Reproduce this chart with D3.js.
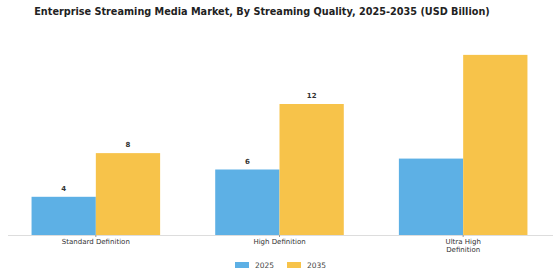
<!DOCTYPE html>
<html>
<head>
<meta charset="utf-8">
<script src="https://cdn.jsdelivr.net/npm/d3@7"></script>
<style>
  body { margin: 0; background: #fff; }
  text { font-family: "DejaVu Sans", sans-serif; }
</style>
</head>
<body>
<div id="chart"></div>
<script>
// chart data
var categories = ["Standard Definition", "High Definition", "Ultra High Definition"];
var years = ["2025", "2035"];
var values2025 = [3.5, 6.0, 7.0];
var values2035 = [7.5, 12.0, 16.5];
var labels2025 = ["4", "6", ""];
var labels2035 = ["8", "12", ""];
var colors = ["#5DB0E5", "#F7C34A"];

var width = 560, height = 280;
var baseY = 235;

var svg = d3.select("#chart").append("svg")
    .attr("width", width)
    .attr("height", height);

// title
svg.append("text")
    .attr("x", 262)
    .attr("y", 15)
    .attr("text-anchor", "middle")
    .attr("font-size", "9.7px")
    .attr("font-weight", "bold")
    .attr("fill", "#222")
    .text("Enterprise Streaming Media Market, By Streaming Quality, 2025-2035 (USD Billion)");

// scales
var x = d3.scaleBand()
    .domain(categories)
    .range([4, 555])
    .paddingInner(0.3)
    .paddingOuter(0.15);

var x1 = d3.scaleBand()
    .domain(years)
    .range([0, x.bandwidth()]);

var y = d3.scaleLinear()
    .domain([0, 12])
    .range([baseY, 104]);

var rows = categories.map(function(c, i) {
    return {
        cat: c,
        bars: [
            { year: "2025", value: values2025[i], label: labels2025[i] },
            { year: "2035", value: values2035[i], label: labels2035[i] }
        ]
    };
});

var groups = svg.selectAll(".group")
    .data(rows)
    .enter().append("g")
    .attr("class", "group")
    .attr("transform", function(d) { return "translate(" + x(d.cat) + ",0)"; });

groups.selectAll("rect")
    .data(function(d) { return d.bars; })
    .enter().append("rect")
    .attr("x", function(d) { return x1(d.year); })
    .attr("y", function(d) { return y(d.value); })
    .attr("width", x1.bandwidth())
    .attr("height", function(d) { return baseY - y(d.value); })
    .attr("fill", function(d, i) { return colors[i]; });

groups.selectAll(".val")
    .data(function(d) { return d.bars; })
    .enter().append("text")
    .attr("class", "val")
    .attr("x", function(d) { return x1(d.year) + x1.bandwidth() / 2; })
    .attr("y", function(d) { return y(d.value) - 6; })
    .attr("text-anchor", "middle")
    .attr("font-size", "7px")
    .attr("font-weight", "bold")
    .attr("fill", "#333")
    .text(function(d) { return d.label; });

// x axis
var xAxis = d3.axisBottom(x).tickSize(2).tickSizeOuter(0);
var axisG = svg.append("g")
    .attr("transform", "translate(0," + baseY + ")")
    .call(xAxis);

axisG.select(".domain")
    .attr("stroke", "#ddd")
    .attr("d", "M8,0.5H553");
axisG.selectAll(".tick line").attr("stroke", "#999");
axisG.selectAll(".tick text")
    .attr("font-size", "7px")
    .attr("fill", "#333")
    .attr("y", 4)
    .each(function(d) {
        var t = d3.select(this);
        if (d == "Ultra High Definition") {
            t.text(null);
            t.append("tspan").attr("x", 0).attr("dy", "0.71em").text("Ultra High");
            t.append("tspan").attr("x", 0).attr("dy", "1.1em").text("Definition");
        }
    });

// legend
var legend = svg.append("g")
    .attr("transform", "translate(235,265)");

years.forEach(function(yr, i) {
    var lg = legend.append("g").attr("transform", "translate(" + (i * 52) + ",0)");
    lg.append("rect")
        .attr("x", 0)
        .attr("y", -3)
        .attr("width", 14)
        .attr("height", 6)
        .attr("fill", colors[i]);
    lg.append("text")
        .attr("x", 20)
        .attr("y", 3)
        .attr("font-size", "7.5px")
        .attr("fill", "#444")
        .text(yr);
});
</script>
</body>
</html>
